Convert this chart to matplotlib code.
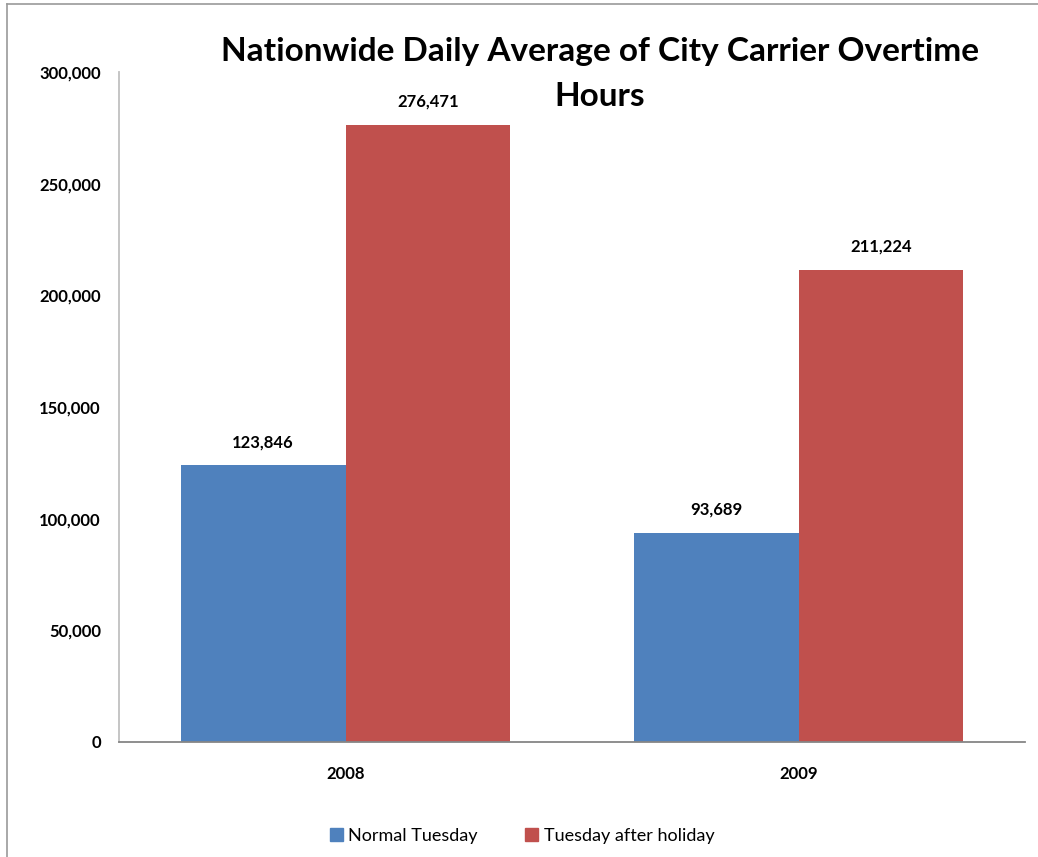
import matplotlib.pyplot as plt
from matplotlib.lines import Line2D
from matplotlib.patches import Patch
import numpy as np

years = ["2008", "2009"]
normal_tuesday = [123846, 93689]
after_holiday = [276471, 211224]
series_names = ["Normal Tuesday", "Tuesday after holiday"]
yticks = [0, 50000, 100000, 150000, 200000, 250000, 300000]

blue = "#4f81bd"
red = "#c0504d"
axis_grey = "#868686"

plt.rcParams['font.family'] = ['Lato', 'DejaVu Sans']

W, H = 1038, 857
fig = plt.figure(figsize=(W / 100, H / 100), dpi=100)
ax = fig.add_axes([119 / W, 1 - 742 / H, (1025 - 119) / W, (742 - 72) / H])

x = np.arange(len(years))
bw = 0.364
b1 = ax.bar(x - bw / 2, normal_tuesday, bw, color=blue)
b2 = ax.bar(x + bw / 2, after_holiday, bw, color=red)

for bars, vals in ((b1, normal_tuesday), (b2, after_holiday)):
    for r, v in zip(bars, vals):
        ax.annotate(f"{v:,}", (r.get_x() + r.get_width() / 2, v),
                    xytext=(0, 11), textcoords="offset points",
                    ha="center", va="bottom", fontsize=12, fontweight="bold")

ax.set_xlim(-0.5, 1.5)
ax.set_ylim(0, 300000)
ax.set_yticks(yticks)
ax.set_yticklabels([f"{v:,}" for v in yticks], fontsize=12, fontweight="bold")
ax.set_xticks(x)
ax.set_xticklabels(years, fontsize=12, fontweight="bold")
ax.tick_params(axis="y", length=0, pad=13)
ax.tick_params(axis="x", length=0, pad=17)

for s in ("top", "right"):
    ax.spines[s].set_visible(False)
ax.spines["left"].set_color("#c0c0c0")
ax.spines["left"].set_linewidth(1.3)
ax.spines["bottom"].set_color(axis_grey)
ax.spines["bottom"].set_linewidth(1.3)

fig.text(600 / W, 1 - 52 / H, "Nationwide Daily Average of City Carrier Overtime",
         ha="center", va="center", fontsize=24, fontweight="bold")
fig.text(600 / W, 1 - 97 / H, "Hours",
         ha="center", va="center", fontsize=24, fontweight="bold")

handles = [Patch(color=blue), Patch(color=red)]
fig.legend(handles, series_names, loc="center", bbox_to_anchor=(522 / W, 1 - 836 / H),
           ncol=2, frameon=False, fontsize=13, handlelength=0.75, handleheight=0.75,
           handletextpad=0.3, columnspacing=2.6)

# outer chart frame (left and top edges)
fig.add_artist(Line2D([7 / W, 7 / W], [0, 1 - 4 / H], color="#9a9a9a", lw=1.2))
fig.add_artist(Line2D([7 / W, 1], [1 - 4 / H, 1 - 4 / H], color="#9a9a9a", lw=1.2))

fig.savefig("out.png", dpi=100)
